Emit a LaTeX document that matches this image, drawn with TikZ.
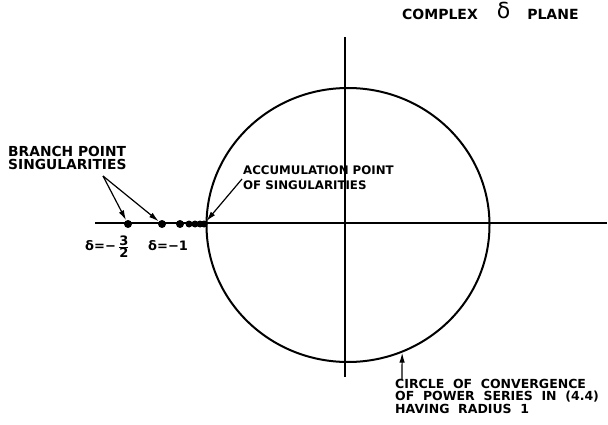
\documentclass[tikz,border=0pt]{standalone}
\usepackage{fontspec}
\setmainfont{DejaVu Sans}
\usetikzlibrary{arrows.meta,shapes.geometric}
\begin{document}
\begin{tikzpicture}[x=1pt,y=-1pt,
  lettering/.style={font=\bfseries\fontsize{12.5}{12.5}\selectfont, inner sep=0pt, align=left},
  axisline/.style={line width=1.6pt},
  dot/.style={circle, fill, inner sep=0pt, minimum size=8pt},
  smalldot/.style={circle, fill, inner sep=0pt, minimum size=7pt},
  pointer/.style={line width=1.2pt, -{Latex[length=10pt,width=5.5pt]}},
]
\useasboundingbox (0,0) rectangle (608,425);
% axes
\coordinate (xl) at (95,223);
\coordinate (xr) at (607,223);
\coordinate (yt) at (345,37);
\coordinate (yb) at (345,377);
\draw[axisline] (xl) -- (xr);
\draw[axisline] (yt) -- (yb);
% circle of convergence
\node[ellipse, draw, line width=2pt, minimum width=283pt, minimum height=274pt, inner sep=0pt] (conv) at (348,225) {};
% singularities
\node[dot] (d1) at (128,224) {};
\node[dot] (d2) at (162,224) {};
\node[dot] (d3) at (180,224) {};
\node[smalldot] (d4) at (189,224) {};
\node[smalldot] (d5) at (195,224) {};
\node[smalldot] (d6) at (200,224) {};
\node[smalldot] (d7) at (204,224) {};
% labels
\node[lettering, font=\bfseries\fontsize{14}{14}\selectfont, anchor=base west] (title) at (402,20) {COMPLEX\hspace{19pt}{\mdseries\fontsize{22}{22}\selectfont\raisebox{1pt}{δ}}\hspace{17pt}PLANE};
\node[lettering, font=\bfseries\fontsize{13.8}{13}\selectfont, anchor=north west] (branch) at (8,146) {BRANCH POINT\\SINGULARITIES};
\node[lettering, font=\bfseries\fontsize{11.8}{15}\selectfont, anchor=north west] (accum) at (243,166) {ACCUMULATION POINT\\OF SINGULARITIES};
\node[lettering, anchor=north west] (circ) at (395,379) {CIRCLE\ \ OF\ \ CONVERGENCE\\OF\ \ POWER\ \ SERIES\ \ IN\ \ (4.4)\\HAVING\ \ RADIUS\ \ 1};
\node[lettering, font=\bfseries\fontsize{13}{13}\selectfont, anchor=base west] (lab1) at (85,250) {δ=−\,$\frac{\textbf{3}}{\textbf{2}}$};
\node[lettering, font=\bfseries\fontsize{13}{13}\selectfont, anchor=base west] (lab2) at (148,250) {δ=−1};
% pointers
\coordinate (bp) at (103,176);
\coordinate (ap) at (242,179);
\coordinate (cp) at (402,379);
\draw[pointer] (bp) -- (d1);
\draw[pointer] (bp) -- (d2);
\draw[pointer] (ap) -- (d7);
\draw[pointer] (cp) -- (conv.-67);
\end{tikzpicture}
\end{document}
